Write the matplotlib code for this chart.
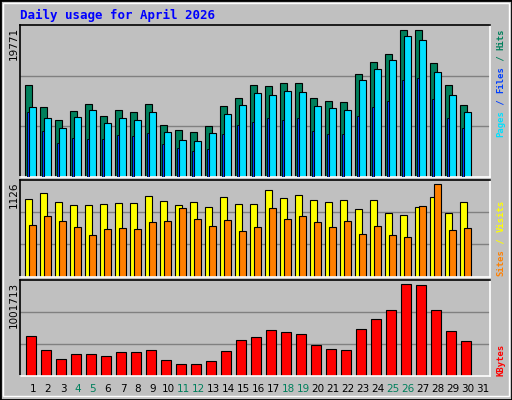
import matplotlib
matplotlib.use("Agg")
import matplotlib.pyplot as plt
from matplotlib.patches import Rectangle

days = list(range(1, 32))
hits = [12390, 9438, 7694, 8901, 9841, 8230, 9035, 8767, 9841, 7023, 6352, 6083, 6888, 9572, 10646,
        12390, 12256, 12659, 12659, 10646, 10243, 10109, 13866, 15477, 16550, 19771, 19771, 15342, 12390, 9706]
files = [9438, 7962, 6620, 8096, 9035, 7291, 7962, 7694, 8767, 6083, 5010, 4876, 5949, 8499, 9706,
         11317, 11048, 11585, 11451, 9572, 9304, 9035, 13061, 14537, 15745, 18965, 18429, 14135, 11048, 8767]
pages = [8767, 6217, 4607, 5278, 5144, 5144, 5681, 5547, 5949, 4473, 3936, 3534, 3802, 5815, 7023,
         7425, 7962, 7694, 7962, 6217, 5815, 5815, 8230, 9438, 10243, 13061, 13329, 10512, 7962, 6620]
visits = [942, 1016, 906, 869, 869, 881, 893, 893, 979, 918, 869, 906, 845, 967, 881,
          881, 1053, 955, 991, 930, 906, 930, 820, 930, 771, 747, 845, 967, 771, 906]
sites = [624, 734, 673, 600, 502, 575, 588, 575, 661, 673, 832, 698, 612, 685, 551,
         600, 832, 698, 734, 661, 600, 673, 514, 612, 502, 477, 857, 1126, 563, 588]
kbytes = [427752, 274200, 175488, 230328, 230328, 208392, 252264, 252264, 274200, 164520, 120648, 120648,
          153552, 263232, 383880, 416784, 493560, 471624, 449688, 329040, 285168, 274200, 504528, 614208,
          712920, 1001713, 987120, 712920, 482592, 372912]
weekends = [4, 5, 11, 12, 18, 19, 25, 26]

W, H = 512, 400
fig = plt.figure(figsize=(5.12, 4.0), dpi=100, facecolor="#C0C0C0")
MONO = "DejaVu Sans Mono"

def fx(px): return px / W
def fy(py): return 1 - py / H

fig.patches.append(Rectangle((0, 0), 1, 1, transform=fig.transFigure, fill=False, ec="black", lw=2))
fig.patches.append(Rectangle((fx(3), fy(396)), fx(506), 393 / H, transform=fig.transFigure, fill=False, ec="white", lw=1))

def mkax(top, bot, ymax):
    ax = fig.add_axes([fx(20), fy(bot), fx(470), (bot - top) / H])
    ax.set_facecolor("#C0C0C0")
    ax.set_xlim(0, 470)
    ax.set_ylim(0, ymax)
    ax.set_xticks([]); ax.set_yticks([])
    for s in ("top", "left"):
        ax.spines[s].set_color("black")
    for s in ("bottom", "right"):
        ax.spines[s].set_color("white")
    for sp in ax.spines.values():
        sp.set_linewidth(1.2)
    for f in (1 / 3, 2 / 3):
        ax.axhline(ymax * f, color="#808080", lw=1, zorder=0)
    return ax

x0 = [15 * (d - 1) for d in days[:30]]

ax1 = mkax(25, 177, 20403)
ax1.bar([x + 5.3 for x in x0], hits, width=7, align="edge", color="#00805C", ec="black", lw=0.8)
ax1.bar([x + 7.0 for x in x0], pages, width=2.3, align="edge", color="#0040FF", ec="black", lw=0.6, zorder=3)
ax1.bar([x + 9.3 for x in x0], files, width=7, align="edge", color="#00E0FF", ec="black", lw=0.8, zorder=2)

ax2 = mkax(180, 276.5, 1175)
ax2.bar([x + 5.3 for x in x0], visits, width=7, align="edge", color="#FFFF00", ec="black", lw=0.8)
ax2.bar([x + 9.3 for x in x0], sites, width=7, align="edge", color="#FF8000", ec="black", lw=0.8)

ax3 = mkax(280, 375.5, 1042300)
ax3.bar([x + 6.3 for x in x0], kbytes, width=10, align="edge", color="#FF0000", ec="black", lw=0.8)

for d in days:
    fig.text(fx(33 + 15 * (d - 1)), fy(389), str(d), ha="center", va="center", fontsize=7.5,
             family="DejaVu Sans", color="#00805C" if d in weekends else "black")

fig.text(fx(20), fy(15), "Daily usage for April 2026", ha="left", va="center", fontsize=9,
         family=MONO, weight="bold", color="#0000FF")

for label, ytop in (("19771", 27), ("1126", 181), ("1001713", 282)):
    fig.text(fx(14), fy(ytop), label, rotation=90, ha="center", va="top", fontsize=7.5,
             family="DejaVu Sans", color="black")

def side(parts, ybot):
    cw = 5.45
    y = ybot
    for s, c in parts:
        fig.text(fx(501), fy(y), s, rotation=90, ha="center", va="bottom", fontsize=6.4,
                 family=MONO, weight="bold", color=c)
        y -= cw * len(s)

side([("Pages", "#00E0FF"), (" / ", "#0040FF"), ("Files", "#0040FF"), (" / ", "#00805C"), ("Hits", "#00805C")], 137)
side([("Sites", "#FF8000"), (" / ", "#FFFF00"), ("Visits", "#FFFF00")], 276)
side([("KBytes", "#FF0000")], 376)

fig.savefig("out.png", dpi=100, facecolor=fig.get_facecolor())
